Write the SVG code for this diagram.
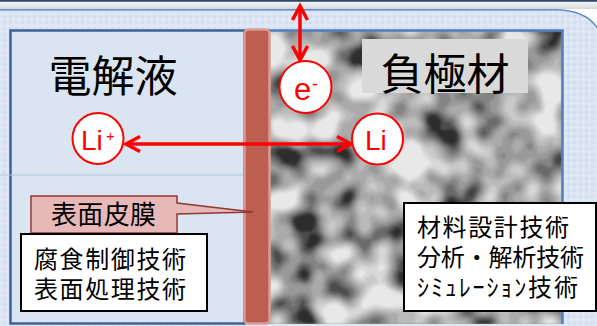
<svg xmlns="http://www.w3.org/2000/svg" width="597" height="326" viewBox="0 0 597 326">
  <style>
    .jp { font-family: "Noto Sans CJK JP", "Noto Sans CJK SC", sans-serif; fill: #000; }
    .lat { font-family: "Liberation Sans", Arial, sans-serif; fill: #ff0000; }
    .ion { fill: #ffffff; stroke: #ff0000; stroke-width: 2; }
    .arrow { fill: none; stroke: #ff0000; stroke-width: 3.5; }
    .box { fill: #ffffff; stroke: #000000; stroke-width: 2; }
  </style>
  <defs>
    <pattern id="check" x="0" y="0" width="6" height="6" patternUnits="userSpaceOnUse">
      <rect width="6" height="6" fill="#d2def0"/>
      <rect width="6" height="3" fill="#e1e9f5" opacity="0.6"/>
      <rect width="3" height="6" fill="#e1e9f5" opacity="0.6"/>
    </pattern>
    <linearGradient id="topband" x1="0" y1="0" x2="0" y2="1">
      <stop offset="0" stop-color="#ffffff"/>
      <stop offset="1" stop-color="#d4d7dc"/>
    </linearGradient>
    <filter id="grain" x="0" y="0" width="1" height="1" filterUnits="objectBoundingBox" color-interpolation-filters="sRGB">
      <feTurbulence type="fractalNoise" baseFrequency="0.028" numOctaves="2" seed="11" result="n"/>
      <feColorMatrix in="n" type="matrix" values="2.2 0 0 0 -0.56  2.2 0 0 0 -0.56  2.2 0 0 0 -0.56  0 0 0 0 1" result="g"/>
      <feComponentTransfer in="g" result="p">
        <feFuncR type="discrete" tableValues="0.18 0.3 0.42 0.52 0.6 0.67 0.73 0.79 0.85 0.91"/>
        <feFuncG type="discrete" tableValues="0.18 0.3 0.42 0.52 0.6 0.67 0.73 0.79 0.85 0.91"/>
        <feFuncB type="discrete" tableValues="0.18 0.3 0.42 0.52 0.6 0.67 0.73 0.79 0.85 0.91"/>
      </feComponentTransfer>
      <feGaussianBlur in="p" stdDeviation="1"/>
    </filter>
    <marker id="head" markerUnits="userSpaceOnUse" markerWidth="22" markerHeight="22" refX="16" refY="9" orient="auto-start-reverse">
      <path d="M2,1.5 L16,9 L2,16.5" fill="none" stroke="#ff0000" stroke-width="3.5" stroke-linejoin="miter"/>
    </marker>
  </defs>

  <!-- background -->
  <g id="background">
    <rect x="0" y="0" width="597" height="326" fill="url(#check)"/>
    <path d="M0,0 H597 V30 Q590,10 555,10 H0 Z" fill="#ffffff"/>
    <rect x="0" y="0" width="597" height="9" fill="url(#topband)"/>
    <rect x="0" y="0" width="597" height="1.8" fill="#2f4b6c"/>
    <path d="M0,9.8 H555 Q588,10 599,31" fill="none" stroke="#5c8ccb" stroke-width="1.6"/>
  </g>

  <!-- electrolyte region -->
  <g id="electrolyte">
    <rect x="10.5" y="30.5" width="234" height="293" fill="#dbe5f1" stroke="#3d6396" stroke-width="2.5"/>
    <line x1="0" y1="175" x2="243" y2="175" stroke="#b2c5df" stroke-width="1.2"/>
    <text class="jp" x="113" y="92" font-size="43" text-anchor="middle">電解液</text>
  </g>

  <!-- anode region -->
  <g id="anode">
    <rect x="268" y="31" width="294" height="293" fill="#999"/>
    <rect x="268" y="31" width="294" height="293" filter="url(#grain)"/>
    <path d="M266,30.5 H562.5 V324" fill="none" stroke="#4f7fbf" stroke-width="2.5"/>
    <rect x="362" y="39" width="166" height="54" fill="#d9d9d9"/>
    <text class="jp" x="445" y="90" font-size="43" text-anchor="middle">負極材</text>
  </g>

  <!-- separator / surface film -->
  <g id="surface-film">
    <rect x="244.5" y="29.5" width="25" height="294" rx="4" fill="#bc5f50" stroke="#da9b96" stroke-width="2.5"/>
  </g>

  <!-- connectors -->
  <g id="connectors">
    <line class="arrow" x1="126" y1="144" x2="351" y2="144" marker-start="url(#head)" marker-end="url(#head)"/>
    <line class="arrow" x1="300" y1="6" x2="300" y2="60" marker-start="url(#head)" marker-end="url(#head)"/>
  </g>

  <!-- ions -->
  <g id="li-ion">
    <circle class="ion" cx="98" cy="138.5" r="25.5"/>
    <text class="lat" x="81" y="150" font-size="28">Li</text>
    <text class="lat" x="106" y="141" font-size="15">+</text>
  </g>
  <g id="li-metal">
    <circle class="ion" cx="377.5" cy="139" r="25.5"/>
    <text class="lat" x="365" y="150" font-size="28">Li</text>
  </g>
  <g id="electron">
    <circle class="ion" cx="305.5" cy="87" r="26"/>
    <text class="lat" x="294" y="100" font-size="31">e</text>
    <text class="lat" x="312" y="90" font-size="18">-</text>
  </g>

  <!-- callout -->
  <g id="film-callout">
    <path d="M31,196 H177 V203 L253,212 L177,214 V233 H31 Z" fill="#e6b9b8" stroke="#943634" stroke-width="1.5" stroke-linejoin="miter"/>
    <text class="jp" x="51" y="224" font-size="26" textLength="105" lengthAdjust="spacing">表面皮膜</text>
  </g>

  <!-- technology boxes -->
  <g id="electrolyte-tech">
    <rect class="box" x="21" y="234" width="186" height="77"/>
    <text class="jp" x="34" y="268" font-size="24" textLength="152" lengthAdjust="spacing">腐食制御技術</text>
    <text class="jp" x="34" y="298" font-size="24" textLength="152" lengthAdjust="spacing">表面処理技術</text>
  </g>
  <g id="anode-tech">
    <rect class="box" x="404" y="203" width="192" height="108"/>
    <text class="jp" x="417" y="236" font-size="24" textLength="152" lengthAdjust="spacing">材料設計技術</text>
    <text class="jp" x="417" y="266" font-size="24" textLength="167" lengthAdjust="spacing">分析・解析技術</text>
    <text class="jp" x="417" y="296" font-size="24" textLength="161" lengthAdjust="spacing">ｼﾐｭﾚｰｼｮﾝ技術</text>
  </g>
</svg>
